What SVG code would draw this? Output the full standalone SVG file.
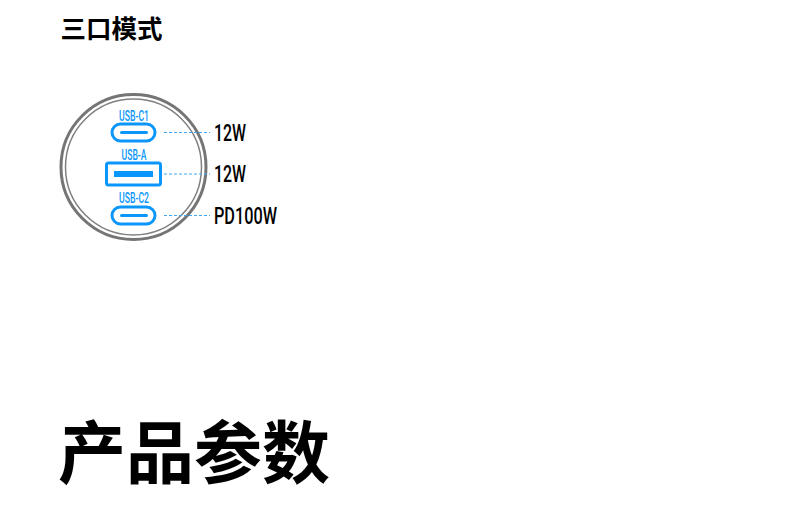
<svg xmlns="http://www.w3.org/2000/svg" width="790" height="527" viewBox="0 0 790 527">
<style>
.cjk{font-family:"Noto Sans CJK SC","Liberation Sans",sans-serif;font-weight:700;fill:#000}
.w{font-family:"Roboto","Liberation Sans",sans-serif;font-size:24px;fill:#000;font-weight:500}
.p{font-family:"Roboto","Liberation Sans",sans-serif;font-size:15px;font-weight:500;fill:#0a96fa;text-anchor:middle}
.port{fill:none;stroke:#0a96fa;stroke-width:3}
.bar{fill:#0a96fa}
.dash{stroke:#3fa9f5;stroke-width:1;stroke-dasharray:3 2;fill:none}
</style>
<rect width="790" height="527" fill="#fff"/>
<text class="cjk" x="60.500" y="38" font-size="25.500">三口模式</text>
<g id="charger">
<circle cx="133.500" cy="167" r="72.500" fill="#fff" stroke="#757575" stroke-width="3"/>
<circle cx="133.500" cy="167" r="68" fill="none" stroke="#808080" stroke-width="1.500"/>
</g>
<g id="usb-c1">
<text class="p" x="134" y="121" textLength="30" lengthAdjust="spacingAndGlyphs">USB-C1</text>
<rect class="port" x="112" y="124" width="43" height="17" rx="8.500"/>
<rect class="bar" x="120" y="131" width="28" height="3" rx="1.500"/>
</g>
<g id="usb-a">
<text class="p" x="134" y="160" textLength="25" lengthAdjust="spacingAndGlyphs">USB-A</text>
<rect class="port" x="106.500" y="163" width="54" height="22" rx="2"/>
<rect class="bar" x="114" y="171" width="39" height="6"/>
</g>
<g id="usb-c2">
<text class="p" x="134" y="203" textLength="30" lengthAdjust="spacingAndGlyphs">USB-C2</text>
<rect class="port" x="112" y="207" width="43" height="17" rx="8.500"/>
<rect class="bar" x="120" y="214" width="28" height="3" rx="1.500"/>
</g>
<g id="connectors">
<path class="dash" d="M164 132.500H210"/>
<path class="dash" d="M164 174H210"/>
<path class="dash" d="M164 215.500H210"/>
</g>
<g id="label-c1"><text class="w" x="214" y="141" textLength="32" lengthAdjust="spacingAndGlyphs">12W</text></g>
<g id="label-a"><text class="w" x="214" y="182" textLength="32" lengthAdjust="spacingAndGlyphs">12W</text></g>
<g id="label-c2"><text class="w" x="214" y="224" textLength="63" lengthAdjust="spacingAndGlyphs">PD100W</text></g>
<text class="cjk" x="58" y="478" font-size="68">产品参数</text>
</svg>
